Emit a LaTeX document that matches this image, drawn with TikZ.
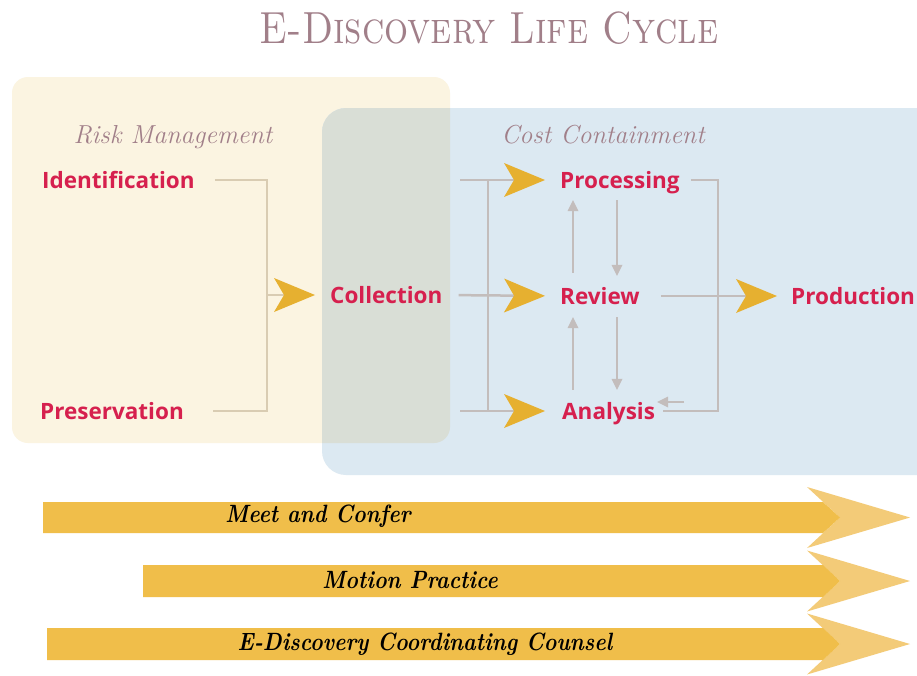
\documentclass[tikz,border=0pt]{standalone}
\usepackage{fontspec}
\newfontfamily\stagefont{Open Sans}
\usetikzlibrary{arrows.meta,calc}

\definecolor{beigebox}{HTML}{FBF4E1}
\definecolor{bluebox}{HTML}{DCE9F2}
\definecolor{mixbox}{HTML}{D9DED6}
\definecolor{crimson}{HTML}{D6204E}
\definecolor{mauve}{HTML}{A17F89}
\definecolor{linegray}{HTML}{C3BDBC}
\definecolor{tanline}{HTML}{D9CCB2}
\definecolor{chevron}{HTML}{E6B030}
\definecolor{bandgold}{HTML}{F0BE4A}
\definecolor{headgold}{HTML}{F3CB78}

\tikzset{
  stage/.style={font=\stagefont\bfseries\fontsize{22.5}{22.5}\selectfont, text=crimson,
    inner sep=0pt, text height=16pt, text depth=0pt, anchor=west},
  phase/.style={font=\itshape\fontsize{26}{26}\selectfont, text=mauve, anchor=base},
  gline/.style={draw=linegray, line width=2.5pt},
  bline/.style={draw=tanline, line width=2pt},
  chev/.style={-{Stealth[length=41pt,width=34pt,inset=10pt,line width=0pt,color=chevron]}},
  gtip/.style={gline, -{Triangle[length=11pt,width=11pt,line width=0pt,color=linegray]}},
  band/.style={font=\bfseries\itshape\fontsize{25}{25}\selectfont, text=black}
}

\begin{document}
\begin{tikzpicture}[x=1pt,y=-1pt]
\clip (0,0) rectangle (917,675);
\fill[white] (0,0) rectangle (917,675);

% title
\node[font=\fontsize{45}{45}\selectfont\scshape, text=mauve, anchor=base]
  (title) at (489,43) {\scalebox{0.84}[1]{E-Discovery Life Cycle}};

% overlapping phase panels
\fill[beigebox, rounded corners=16pt] (12,77) rectangle (450,443);
\fill[bluebox, rounded corners=24pt] (322,108) rectangle (980,475);
\begin{scope}
  \clip[rounded corners=16pt] (12,77) rectangle (450,443);
  \fill[mixbox, rounded corners=24pt] (322,108) rectangle (980,475);
\end{scope}

\node[phase] (risk) at (173,143) {Risk Management};
\node[phase] (cost) at (603,143) {Cost Containment};

% stages
\node[stage] (ident) at (42,180) {Identification};
\node[stage] (pres)  at (40,411) {Preservation};
\node[stage] (coll)  at (330,295) {Collection};
\node[stage] (proc)  at (560,180) {Processing};
\node[stage] (rev)   at (560,296) {Review};
\node[stage] (anal)  at (562,411) {Analysis};
\node[stage] (prod)  at (791,296) {Production};

% helper points for the brackets
\coordinate (jl) at (267,295);
\coordinate (bt) at (460,180);
\coordinate (bb) at (460,411);
\coordinate (vt) at (488,180);
\coordinate (vb) at (488,411);
\coordinate (jr) at (718,296);
\coordinate (ux) at (573,0);
\coordinate (dx) at (617,0);

% risk management bracket into collection
\draw[bline] ([xshift=20pt]ident.east) -| (jl) |- ([xshift=29pt]pres.east);
\draw[bline, chev, shorten >=15pt] (jl) -- (coll.west);

% collection fans out to processing, review and analysis
\draw[gline] (vt) -- (vb);
\draw[gline, chev, shorten >=15pt] (bt) -- (proc.west);
\draw[gline, chev, shorten <=16pt, shorten >=15pt] (coll.east) -- (rev.west);
\draw[gline, chev, shorten >=17pt] (bb) -- (anal.west);

% loops between processing, review and analysis
\draw[gtip, shorten <=15pt, shorten >=12pt] (rev.north -| ux) -- (proc.south -| ux);
\draw[gtip, shorten <=12pt, shorten >=12pt] (proc.south -| dx) -- (rev.north -| dx);
\draw[gtip, shorten <=13pt, shorten >=13pt] (anal.north -| ux) -- (rev.south -| ux);
\draw[gtip, shorten <=13pt, shorten >=13pt] (rev.south -| dx) -- (anal.north -| dx);

% processing back to analysis, review on to production
\draw[gline] ([xshift=11pt]proc.east) -| (jr) |- ([xshift=8pt]anal.east);
\draw[gtip] ([shift={(29pt,9pt)}]anal.east) -- ([shift={(2pt,9pt)}]anal.east);
\draw[gline, chev, shorten <=21pt, shorten >=14pt] (rev.east) -- (prod.west);

% ongoing activities across the cycle
\foreach \L/\t/\b in {43/502/533, 143/565/597, 47/628/660}{
  \pgfmathsetmacro{\m}{(\t+\b)/2}
  \fill[headgold] (807,\m-30.5) -- (910,\m) -- (807,\m+30.5) -- (840,\m) -- cycle;
  \fill[bandgold] (\L,\t) -- (823,\t) -- (840,\m) -- (823,\b) -- (\L,\b) -- cycle;
}
\node[band] (meet) at (318,516) {\scalebox{0.86}[1]{Meet and Confer}};
\node[band] (motion) at (410,580) {\scalebox{0.86}[1]{Motion Practice}};
\node[band] (counsel) at (425,644) {\scalebox{0.86}[1]{E-Discovery Coordinating Counsel}};
\end{tikzpicture}
\end{document}
